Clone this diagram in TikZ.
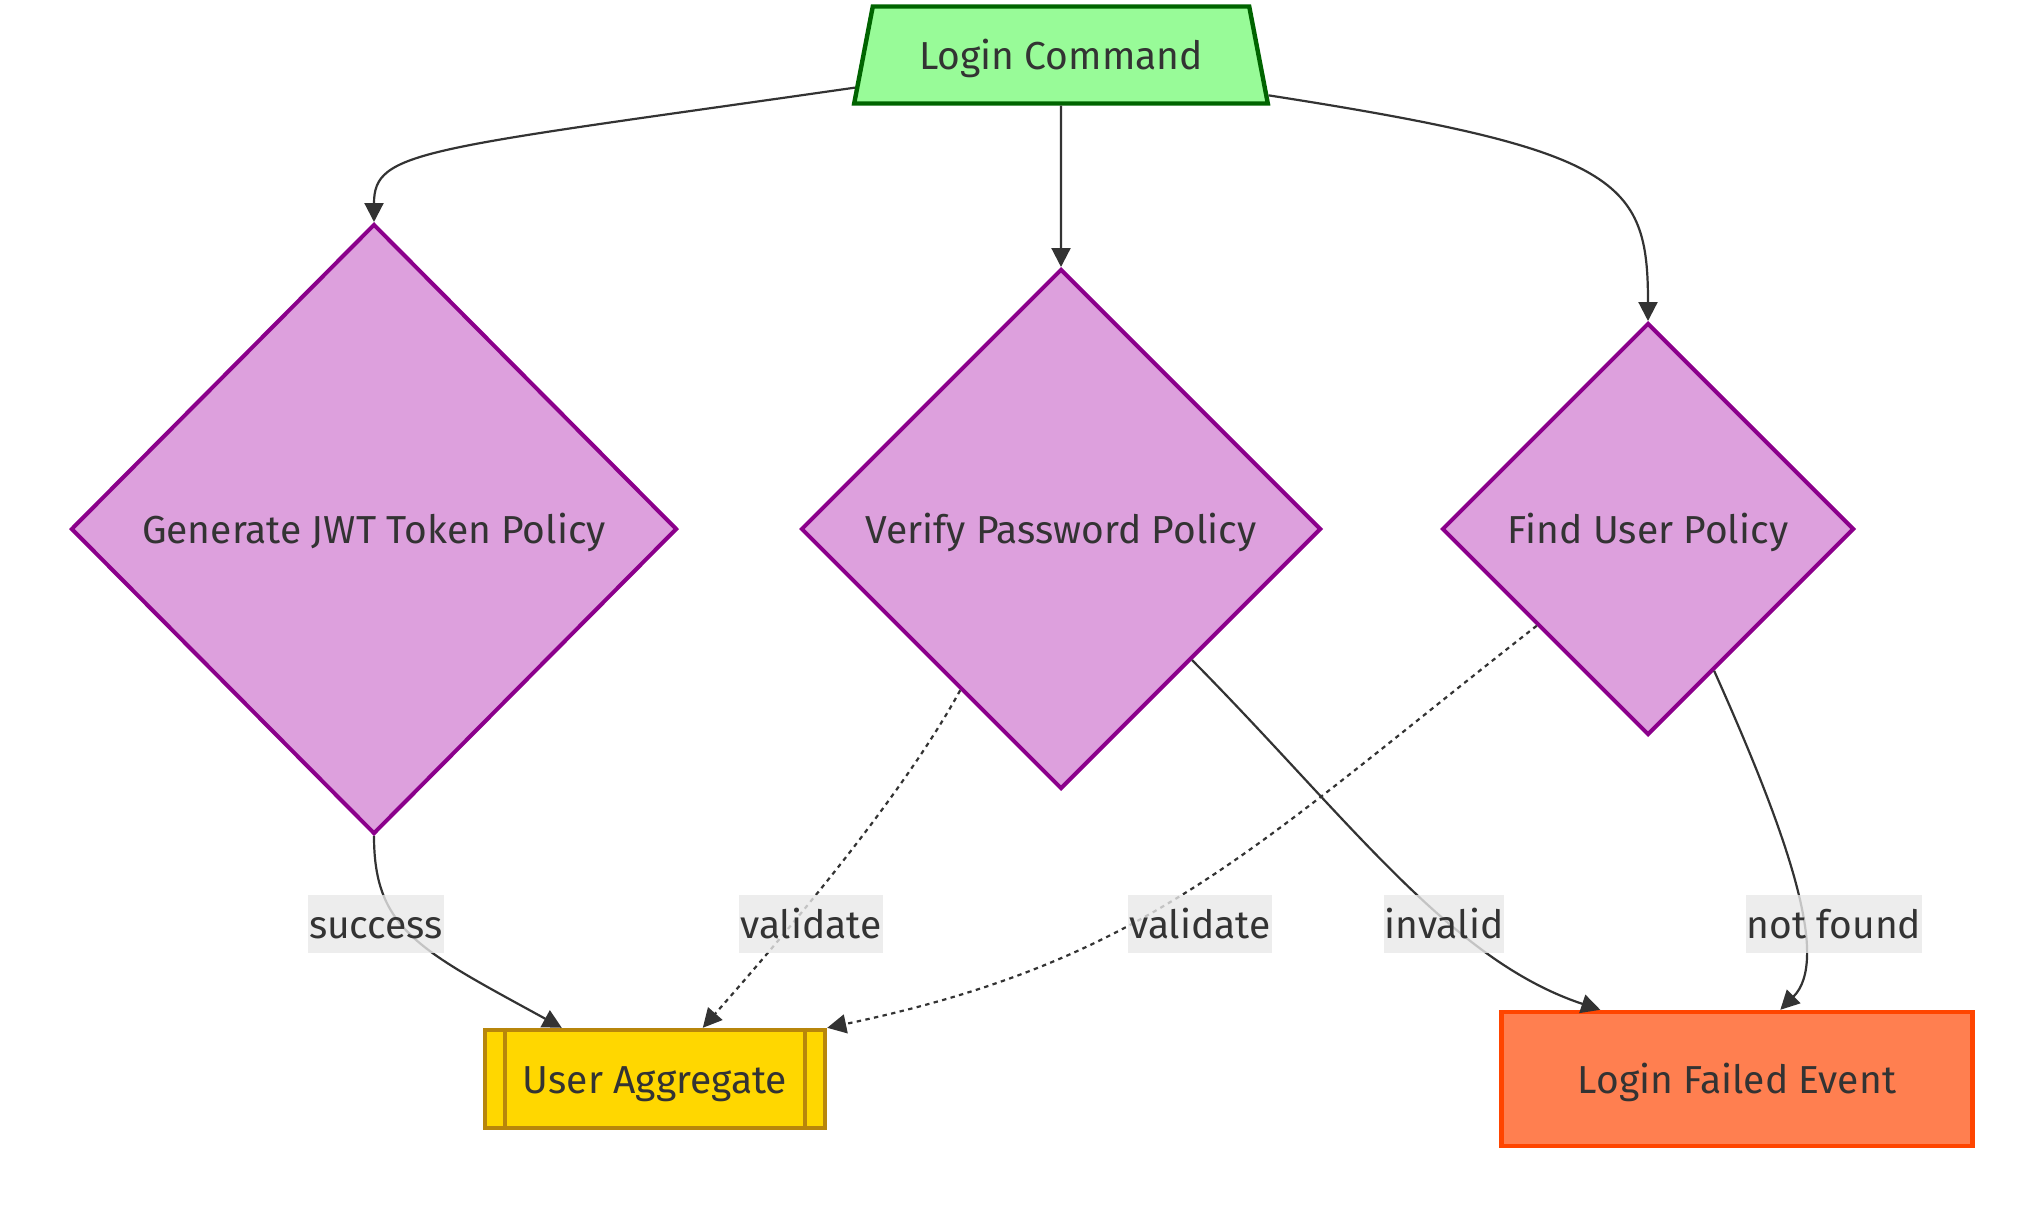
\documentclass[tikz,border=0pt]{standalone}
\usepackage{fontspec}
\setmainfont{Fira Sans}
\usetikzlibrary{shapes.geometric,arrows.meta,calc}
\definecolor{txt}{HTML}{333333}
\definecolor{cmdfill}{HTML}{98FB98}
\definecolor{cmddraw}{HTML}{006400}
\definecolor{polfill}{HTML}{DDA0DD}
\definecolor{poldraw}{HTML}{8B008B}
\definecolor{aggfill}{HTML}{FFD700}
\definecolor{aggdraw}{HTML}{B8860B}
\definecolor{evfill}{HTML}{FF7F50}
\definecolor{evdraw}{HTML}{FF4500}
\definecolor{lblbg}{HTML}{E8E8E8}
\tikzset{
  ctext/.style={text height=14pt, text depth=0pt},
  cmdbox/.style={ctext, shape=trapezium, trapezium left angle=63.4, trapezium right angle=63.4,
    trapezium stretches=true, minimum width=207pt, minimum height=48.5pt,
    fill=cmdfill, draw=cmddraw, line width=2.2pt, inner sep=0pt},
  policy/.style={ctext, shape=diamond, aspect=1, inner sep=0pt, fill=polfill, draw=poldraw, line width=2pt},
  aggbox/.style={ctext, rectangle, minimum width=170pt, minimum height=49pt, fill=aggfill, draw=aggdraw, line width=2.2pt},
  evbox/.style={ctext, rectangle, minimum width=235.5pt, minimum height=67pt, fill=evfill, draw=evdraw, line width=2.2pt},
  edge/.style={draw=txt, line width=1.1pt, -{Triangle[length=9.5pt,width=9.5pt]}},
  dotedge/.style={edge, dash pattern=on 2.2pt off 2.2pt},
  lbl/.style={ctext, fill=lblbg, fill opacity=0.8, text opacity=1, inner xsep=0.5pt, inner ysep=7.5pt,
    minimum height=29pt}
}
\begin{document}
\begin{tikzpicture}[x=0.5pt,y=-0.5pt, font=\fontsize{19.5}{23}\selectfont, text=txt]
\useasboundingbox (0,0) rectangle (2024,1205);

\node[cmdbox] (cmd) at (1061,55) {Login Command};
\node[policy, minimum width=303pt, minimum height=305pt] (gen) at (374,529) {Generate JWT Token Policy};
\node[policy, minimum width=260pt, minimum height=260pt] (ver) at (1061,529) {Verify Password Policy};
\node[policy, minimum width=206pt, minimum height=206pt] (find) at (1648,529) {Find User Policy};
\node[aggbox] (ua) at (655,1079) {User Aggregate};
\draw[aggdraw, line width=2.2pt] ([xshift=11pt]ua.north west) -- ([xshift=11pt]ua.south west);
\draw[aggdraw, line width=2.2pt] ([xshift=-11pt]ua.north east) -- ([xshift=-11pt]ua.south east);
\node[evbox] (lf) at (1737,1079) {Login Failed Event};

\draw[edge] (cmd.189) .. controls (420,150) and (374,150) .. (gen.north);
\draw[edge] (cmd.south) -- (ver.north);
\draw[edge] (cmd.349.5) .. controls (1620,150) and (1648,180) .. (find.north);
\draw[edge] (gen.south) .. controls (374,930) and (420,950) .. ([xshift=39.5pt]ua.north west);
\draw[dotedge] (ver.238.6) .. controls (900,800) and (780,940) .. ([xshift=110pt]ua.north west);
\draw[dotedge] (find.221.7) .. controls (1250,850) and (1150,960) .. (ua.north east);
\draw[edge] (ver.315) .. controls (1350,820) and (1450,960) .. ([xshift=50.5pt]lf.north west);
\draw[edge] (find.295) .. controls (1790,840) and (1830,960) .. ([xshift=140.5pt]lf.north west);

\node[lbl] (l1) at (376,924) {success};
\node[lbl] (l2) at (811,924) {validate};
\node[lbl] (l3) at (1200,924) {validate};
\node[lbl] (l4) at (1444,924) {invalid};
\node[lbl] (l5) at (1834,924) {not found};
\end{tikzpicture}
\end{document}
